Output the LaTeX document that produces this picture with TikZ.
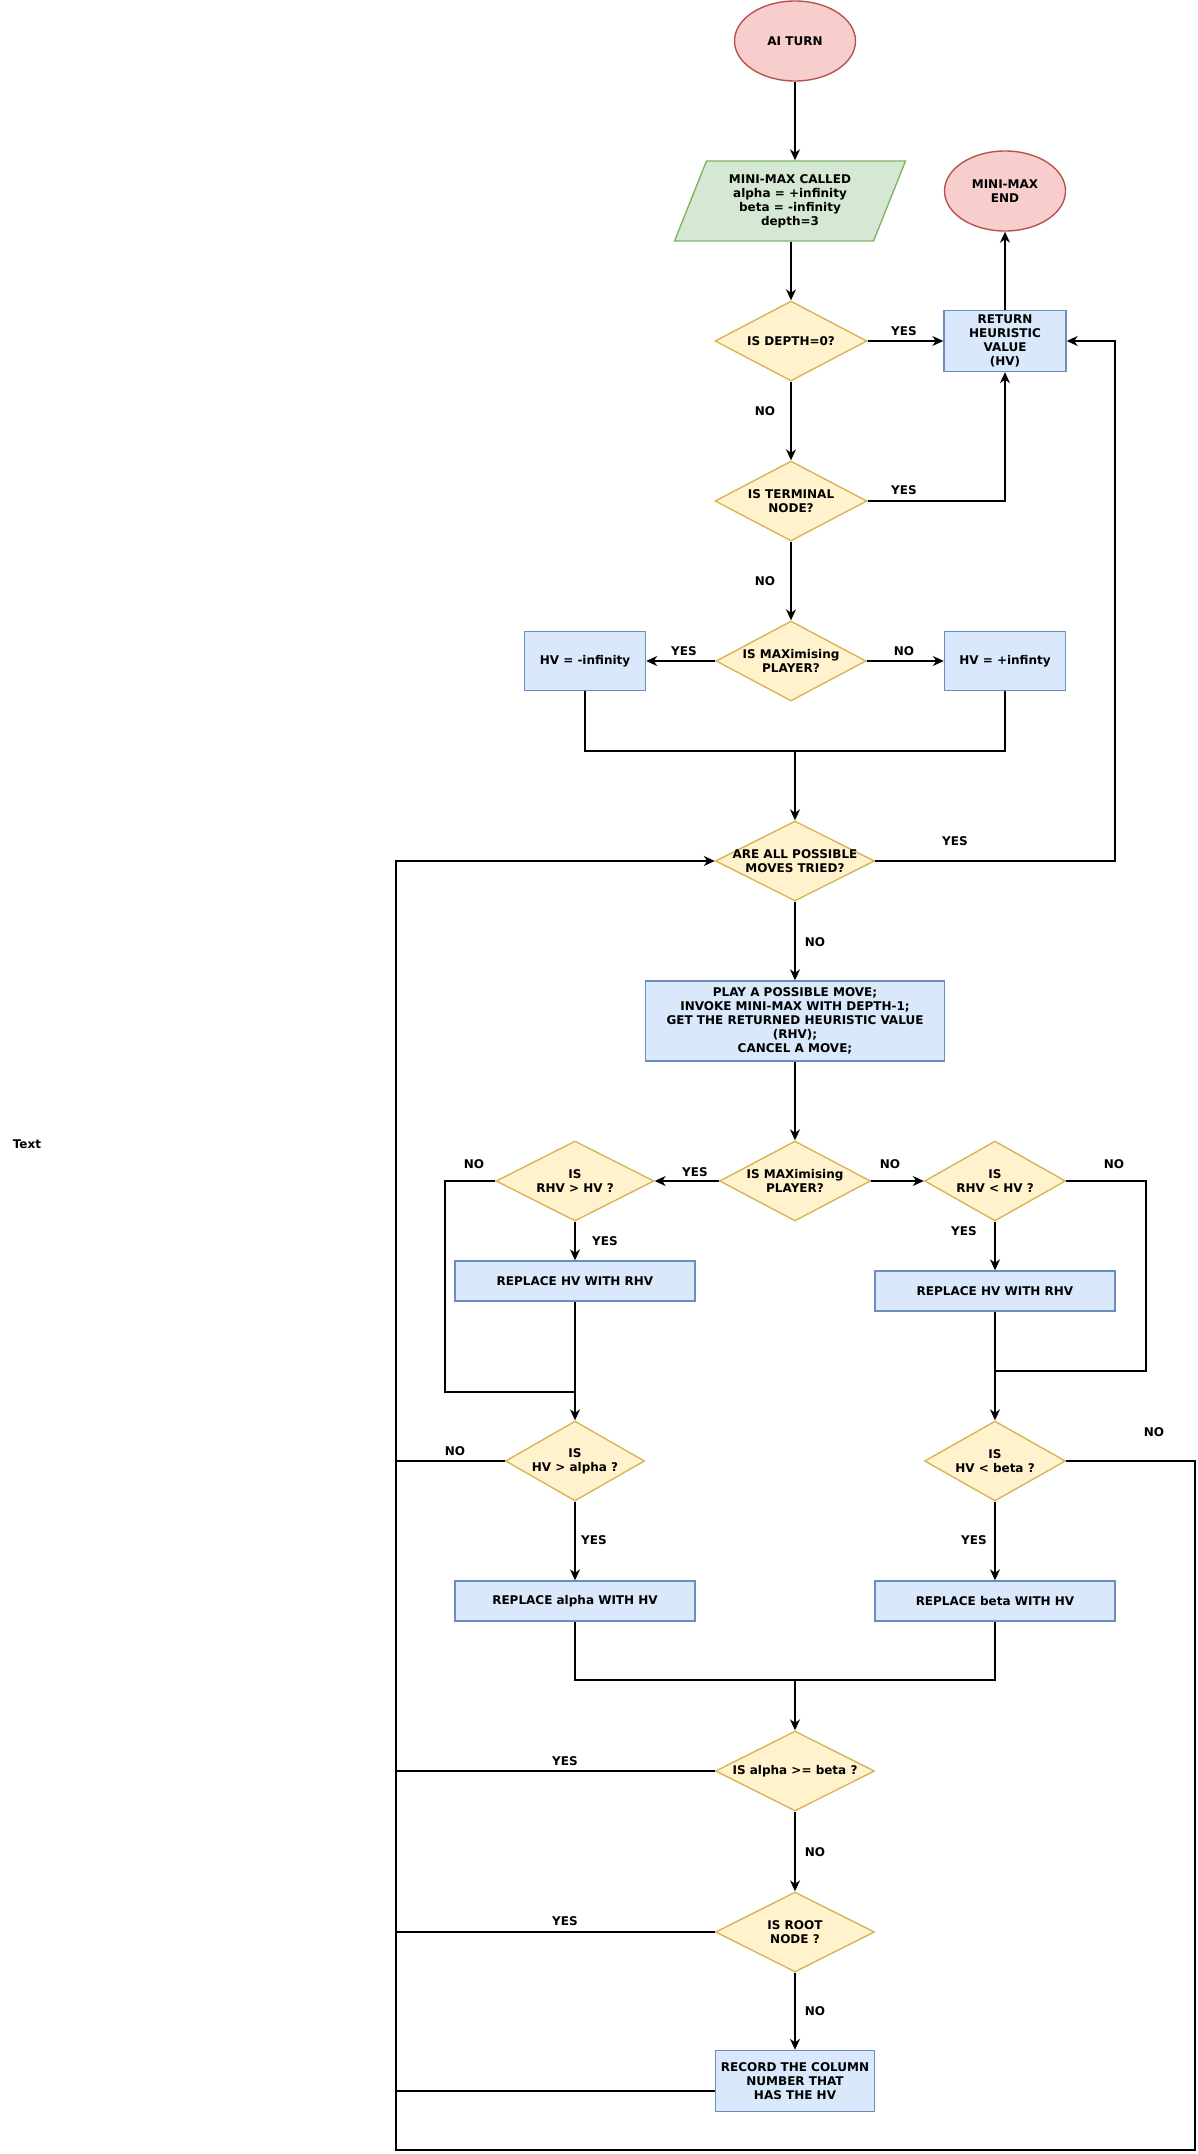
\documentclass[tikz,border=0pt]{standalone}
\usepackage{fontspec}
\setmainfont{DejaVu Sans}
\usetikzlibrary{arrows.meta,shapes.geometric}

\definecolor{redfill}{HTML}{F8CECC}
\definecolor{redline}{HTML}{B85450}
\definecolor{greenfill}{HTML}{D5E8D4}
\definecolor{greenline}{HTML}{82B366}
\definecolor{yellowfill}{HTML}{FFF2CC}
\definecolor{yellowline}{HTML}{D6B656}
\definecolor{bluefill}{HTML}{DAE8FC}
\definecolor{blueline}{HTML}{6C8EBF}

\begin{document}
\begin{tikzpicture}[x=1pt, y=-1pt, >={Stealth[length=11pt,width=10pt,inset=3.5pt]},
      line width=1.4pt, font=\bfseries\fontsize{12}{14}\selectfont,
      startend/.style={ellipse, draw=redline, fill=redfill, minimum width=121pt, minimum height=80pt, align=center},
      io/.style={trapezium, trapezium left angle=60, trapezium right angle=120, trapezium stretches body,
        draw=greenline, fill=greenfill, minimum width=231pt, minimum height=80pt, inner sep=1pt, align=center},
      dec/.style={diamond, draw=yellowline, fill=yellowfill, inner sep=0pt, minimum height=80pt, minimum width=#1},
      proc/.style={rectangle, draw=blueline, fill=bluefill, inner sep=1pt, align=center},
      lbl/.style={inner sep=0pt}]
      \useasboundingbox (0,0) rectangle (1198,2154);
      % top part
      \node[startend] (ai)  at (795,41)   {AI TURN};
      \node[io]       (mm)  at (790,201)  {MINI-MAX CALLED\\alpha = +infinity\\beta = -infinity\\depth=3};
      \node[startend] (end) at (1005,191) {MINI-MAX\\END};
      \node[dec=152pt, label={[align=center]center:IS DEPTH=0?}] (depth) at (791,341) {};
      \node[proc, minimum width=122pt, minimum height=61pt] (ret) at (1005,341) {RETURN\\HEURISTIC\\VALUE\\(HV)};
      \node[dec=152pt, label={[align=center]center:IS TERMINAL\\NODE?}] (terminal) at (791,501) {};
      \node[dec=150pt, label={[align=center]center:IS MAXimising\\PLAYER?}] (max1) at (791,661) {};
      \node[proc, minimum width=121pt, minimum height=59pt] (hvneg) at (585,661)  {HV = -infinity};
      \node[proc, minimum width=121pt, minimum height=59pt] (hvpos) at (1005,661) {HV = +infinty};
      \coordinate (m1) at (795,751);
      \node[dec=159pt, label={[align=center]center:ARE ALL POSSIBLE\\MOVES TRIED?}] (all) at (795,861) {};
      \coordinate (rt) at (1115,341);
      % move loop
      \node[proc, minimum width=299pt, minimum height=80pt] (play) at (795,1021)
            {PLAY A POSSIBLE MOVE;\\INVOKE MINI-MAX WITH DEPTH-1;\\GET THE RETURNED HEURISTIC VALUE\\(RHV);\\CANCEL A MOVE;};
      \node[dec=151pt, label={[align=center]center:IS MAXimising\\PLAYER?}] (max2) at (795,1181) {};
      \node[dec=158pt, label={[align=center]center:IS\\RHV > HV ?}] (gt) at (575,1181) {};
      \node[dec=141pt, label={[align=center]center:IS\\RHV < HV ?}] (lt) at (995,1181) {};
      \node[proc, minimum width=240pt, minimum height=40pt] (repl) at (575,1281) {REPLACE HV WITH RHV};
      \node[proc, minimum width=240pt, minimum height=40pt] (repr) at (995,1291) {REPLACE HV WITH RHV};
      \coordinate (gl) at (445,1392);
      \coordinate (lr) at (1146,1371);
      \node[dec=139pt, label={[align=center]center:IS\\HV > alpha ?}] (hva) at (575,1461) {};
      \node[dec=141pt, label={[align=center]center:IS\\HV < beta ?}] (hvb) at (995,1461) {};
      \node[proc, minimum width=240pt, minimum height=40pt] (ra) at (575,1601) {REPLACE alpha WITH HV};
      \node[proc, minimum width=240pt, minimum height=40pt] (rb) at (995,1601) {REPLACE beta WITH HV};
      \coordinate (m2) at (795,1680);
      \node[dec=159pt, label={[align=center]center:IS alpha >= beta ?}] (ab) at (795,1771) {};
      \node[dec=159pt, label={[align=center]center:IS ROOT\\NODE ?}] (root) at (795,1932) {};
      \node[proc, minimum width=159pt, minimum height=61pt] (rec) at (795,2081) {RECORD THE COLUMN\\NUMBER THAT\\HAS THE HV};
      \coordinate (bl) at (396,2150);
      \coordinate (br) at (1195,2150);
      \node[lbl] (txt) at (27,1144) {Text};
      % connectors
      \draw[->] (ai.south) -- (ai.south |- mm.north);
      \draw[->] (mm.south -| depth.north) -- (depth.north);
      \draw[->] (depth.east) -- (ret.west);
      \draw[->] (ret.north) -- (end.south);
      \draw[->] (depth.south) -- (terminal.north);
      \draw[->] (terminal.east) -| (ret.south);
      \draw[->] (terminal.south) -- (max1.north);
      \draw[->] (max1.west) -- (hvneg.east);
      \draw[->] (max1.east) -- (hvpos.west);
      \draw (hvneg.south) |- (m1) -| (hvpos.south);
      \draw[->] (m1) -- (all.north);
      \draw[->] (all.east) -| (rt) -- (ret.east);
      \draw[->] (all.south) -- (play.north);
      \draw[->] (play.south) -- (max2.north);
      \draw[->] (max2.west) -- (gt.east);
      \draw[->] (max2.east) -- (lt.west);
      \draw[->] (gt.south) -- (repl.north);
      \draw[->] (lt.south) -- (repr.north);
      \draw[->] (repl.south) -- (hva.north);
      \draw[->] (repr.south) -- (hvb.north);
      \draw (gt.west) -| (gl) -- (gl -| repl.south);
      \draw (lt.east) -| (lr) -- (lr -| repr.south);
      \draw[->] (hva.south) -- (ra.north);
      \draw[->] (hvb.south) -- (rb.north);
      \draw (ra.south) |- (m2) -| (rb.south);
      \draw[->] (m2) -- (ab.north);
      \draw[->] (ab.south) -- (root.north);
      \draw[->] (root.south) -- (rec.north);
      \draw[->] (hvb.east) -| (br) -- (bl) |- (all.west);
      \draw (hva.west) -- (hva.west -| bl);
      \draw (ab.west) -- (ab.west -| bl);
      \draw (root.west) -- (root.west -| bl);
      \draw ([yshift=-10pt]rec.west) -- ([yshift=-10pt]rec.west -| bl);
      % branch labels
      \node[lbl] (y1)  at (904,331)   {YES};
      \node[lbl] (n1)  at (765,411)   {NO};
      \node[lbl] (y2)  at (904,490)   {YES};
      \node[lbl] (n2)  at (765,581)   {NO};
      \node[lbl] (y3)  at (684,651)   {YES};
      \node[lbl] (n3)  at (904,651)   {NO};
      \node[lbl] (y4)  at (955,841)   {YES};
      \node[lbl] (n4)  at (815,942)   {NO};
      \node[lbl] (y5)  at (695,1172)  {YES};
      \node[lbl] (n5)  at (890,1164)  {NO};
      \node[lbl] (n6)  at (474,1164)  {NO};
      \node[lbl] (y6)  at (605,1241)  {YES};
      \node[lbl] (n7)  at (1114,1164) {NO};
      \node[lbl] (y7)  at (964,1231)  {YES};
      \node[lbl] (n8)  at (455,1451)  {NO};
      \node[lbl] (y8)  at (594,1540)  {YES};
      \node[lbl] (n9)  at (1154,1432) {NO};
      \node[lbl] (y9)  at (974,1540)  {YES};
      \node[lbl] (y10) at (565,1761)  {YES};
      \node[lbl] (n10) at (815,1852)  {NO};
      \node[lbl] (y11) at (565,1921)  {YES};
      \node[lbl] (n11) at (815,2011)  {NO};
    \end{tikzpicture}
\end{document}
